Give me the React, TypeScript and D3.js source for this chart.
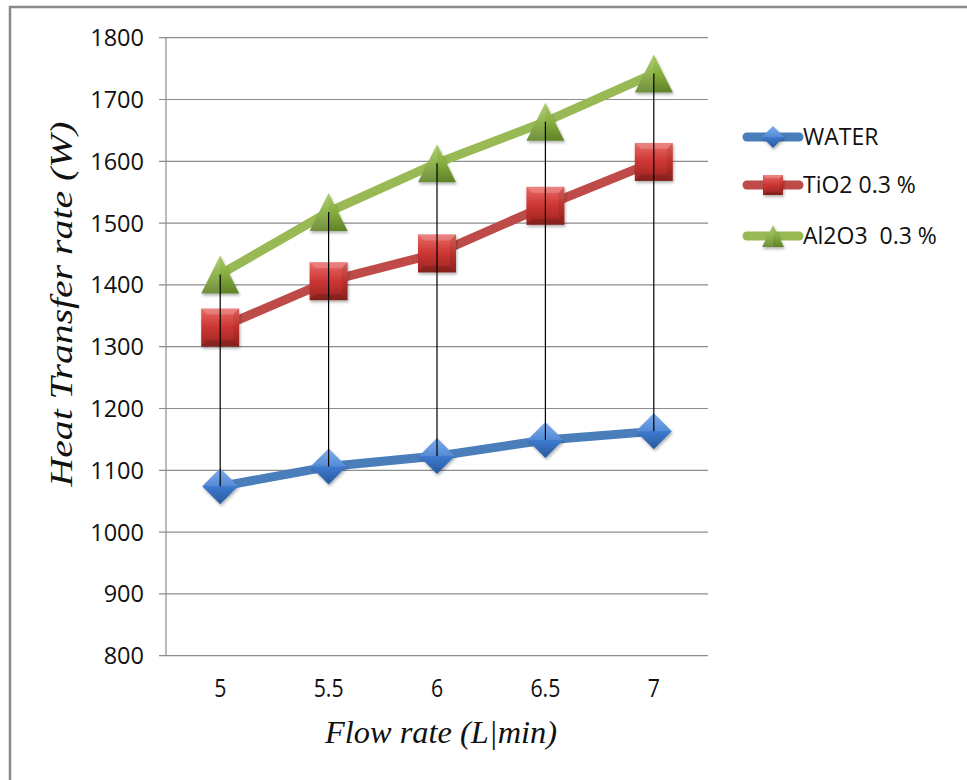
import React from "react";
import * as d3 from "d3";

const categories = ["5", "5.5", "6", "6.5", "7"];
const water = [1074, 1106, 1123, 1149, 1163];
const tio2 = [1331, 1406, 1451, 1528, 1599];
const al2o3 = [1417, 1518, 1597, 1664, 1742];
const yTicks = [800, 900, 1000, 1100, 1200, 1300, 1400, 1500, 1600, 1700, 1800];
const seriesNames = ["WATER", "TiO2 0.3 %", "Al2O3  0.3 %"];

const W = 967, H = 780;
const left = 166, right = 708, top = 37.7, bottom = 655.7;

type Shape = "diamond" | "square" | "triangle";
const seriesDefs: { name: string; values: number[]; line: string; fill: string; light: string; dark: string; shape: Shape }[] = [
  { name: seriesNames[0], values: water, line: "#4a7ebb", fill: "#3d7ad0", light: "#6aa2ea", dark: "#285a9c", shape: "diamond" },
  { name: seriesNames[1], values: tio2, line: "#be4b48", fill: "#cc3532", light: "#e86a66", dark: "#9a2522", shape: "square" },
  { name: seriesNames[2], values: al2o3, line: "#98b954", fill: "#86ad3e", light: "#a8cc66", dark: "#5f8228", shape: "triangle" },
];

function Marker({ shape, cx, cy, s, i }: { shape: Shape; cx: number; cy: number; s: number; i: number }) {
  const g = `grad${i}`;
  const h = s / 2;
  if (shape === "diamond") {
    const pts = `${cx},${cy - h} ${cx + h},${cy} ${cx},${cy + h} ${cx - h},${cy}`;
    return (
      <g filter="url(#shadow)">
        <polygon points={pts} fill={`url(#${g})`} />
        <polygon points={`${cx - h},${cy} ${cx},${cy - h} ${cx + h},${cy}`} fill="#ffffff" opacity={0.12} />
      </g>
    );
  }
  if (shape === "square") {
    const b = s * 0.16;
    return (
      <g filter="url(#shadow)">
        <rect x={cx - h} y={cy - h} width={s} height={s} fill={`url(#${g})`} />
        <polygon points={`${cx - h},${cy - h} ${cx + h},${cy - h} ${cx + h - b},${cy - h + b} ${cx - h + b},${cy - h + b}`} fill="#ffffff" opacity={0.18} />
        <polygon points={`${cx - h},${cy + h} ${cx + h},${cy + h} ${cx + h - b},${cy + h - b} ${cx - h + b},${cy + h - b}`} fill="#000" opacity={0.15} />
        <polygon points={`${cx + h},${cy - h} ${cx + h},${cy + h} ${cx + h - b},${cy + h - b} ${cx + h - b},${cy - h + b}`} fill="#000" opacity={0.08} />
      </g>
    );
  }
  const pts = `${cx},${cy - h} ${cx + h},${cy + h} ${cx - h},${cy + h}`;
  return (
    <g filter="url(#shadow)">
      <polygon points={pts} fill={`url(#${g})`} />
      <polygon points={`${cx},${cy - h} ${cx},${cy + h} ${cx - h},${cy + h}`} fill="#ffffff" opacity={0.1} />
    </g>
  );
}

export default function App() {
  const x = d3.scaleBand<string>().domain(categories).range([left, right]);
  const y = d3.scaleLinear().domain([800, 1800]).range([bottom, top]);
  const cx = (c: string) => (x(c) as number) + x.bandwidth() / 2;
  const line = d3.line<number>().x((_, i) => cx(categories[i])).y((v) => y(v));
  const sizes: Record<Shape, number> = { diamond: 36, square: 38, triangle: 38 };
  const legSizes: Record<Shape, number> = { diamond: 22, square: 20, triangle: 22 };
  const legY = [137, 185, 236];

  return (
    <svg width={W} height={H} style={{ position: "absolute", left: 0, top: 0, background: "#fff" }}>
      <defs>
        {seriesDefs.map((s, i) => (
          <linearGradient key={i} id={`grad${i}`} x1="0" y1="0" x2="0" y2="1">
            <stop offset="0" stopColor={s.light} />
            <stop offset="0.5" stopColor={s.fill} />
            <stop offset="1" stopColor={s.dark} />
          </linearGradient>
        ))}
        <filter id="shadow" x="-30%" y="-30%" width="160%" height="160%">
          <feDropShadow dx="1" dy="2" stdDeviation="1.5" floodColor="#000" floodOpacity="0.3" />
        </filter>
      </defs>
      <rect x={10} y={7} width={W} height={H} fill="#fff" stroke="#8a8a8a" strokeWidth={2.5} />

      {/* gridlines */}
      {yTicks.map((t) => (
        <line key={t} x1={left - 7} x2={right} y1={y(t)} y2={y(t)} stroke="#8c8c8c" strokeWidth={1.2} />
      ))}
      <line x1={left} x2={left} y1={top} y2={bottom} stroke="#8c8c8c" strokeWidth={1.2} />

      {/* y tick labels */}
      {yTicks.map((t) => (
        <text key={t} x={144} y={y(t)} dy="0.36em" textAnchor="end" fontFamily="'Open Sans'" fontSize={23.5} fill="#111">
          {t}
        </text>
      ))}
      {/* x tick labels */}
      {categories.map((c) => (
        <text key={c} transform={`translate(${cx(c)},697) scale(0.85,1)`} textAnchor="middle" fontFamily="'Open Sans'" fontSize={25} fill="#111">
          {c}
        </text>
      ))}

      {/* axis titles */}
      <text x={441} y={743} textAnchor="middle" fontFamily="'Liberation Serif'" fontStyle="italic" fontSize={31} textLength={232} lengthAdjust="spacingAndGlyphs" fill="#111">
        Flow rate (L|min)
      </text>
      <text transform="translate(72,304) rotate(-90)" textAnchor="middle" fontFamily="'Liberation Serif'" fontStyle="italic" fontSize={32} textLength={365} lengthAdjust="spacingAndGlyphs" fill="#111">
        Heat Transfer rate (W)
      </text>

      {/* series lines */}
      {seriesDefs.map((s, i) => (
        <path key={i} d={line(s.values) as string} fill="none" stroke={s.line} strokeWidth={9} strokeLinejoin="round" />
      ))}
      {/* markers */}
      {seriesDefs.map((s, i) =>
        s.values.map((v, j) => <Marker key={`${i}-${j}`} shape={s.shape} cx={cx(categories[j])} cy={y(v)} s={sizes[s.shape]} i={i} />)
      )}
      {/* high-low lines */}
      {categories.map((c, j) => {
        const vals = seriesDefs.map((s) => s.values[j]);
        return <line key={c} x1={cx(c)} x2={cx(c)} y1={y(d3.max(vals) as number)} y2={y(d3.min(vals) as number)} stroke="#000" strokeWidth={1.2} />;
      })}

      {/* legend */}
      {seriesDefs.map((s, i) => (
        <g key={i}>
          <line x1={747} x2={799} y1={legY[i]} y2={legY[i]} stroke={s.line} strokeWidth={9} strokeLinecap="round" />
          <Marker shape={s.shape} cx={773} cy={legY[i]} s={legSizes[s.shape]} i={i} />
          <text x={803} y={legY[i]} dy="0.36em" fontFamily="'Open Sans'" fontSize={23} fill="#111" xmlSpace="preserve">
            {s.name}
          </text>
        </g>
      ))}
    </svg>
  );
}
